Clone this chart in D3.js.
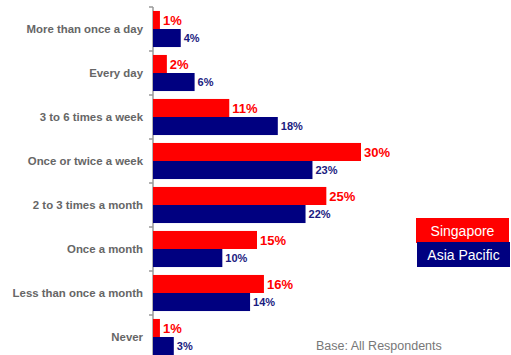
<!DOCTYPE html>
<html><head><meta charset="utf-8">
<script src="https://cdn.jsdelivr.net/npm/d3@7"></script>
<style>body{margin:0;background:#fff}svg{display:block}</style>
</head><body>
<script>
const categories = ["More than once a day","Every day","3 to 6 times a week","Once or twice a week","2 to 3 times a month","Once a month","Less than once a month","Never"];
const series = ["Singapore","Asia Pacific"];
const singapore = [1,2,11,30,25,15,16,1];
const asiaPacific = [4,6,18,23,22,10,14,3];
const colors = ["#FF0000","#000080"];
const values = [singapore, asiaPacific];

const W=511,H=355;
const svg=d3.select("body").append("svg").attr("width",W).attr("height",H);
const font="Liberation Sans, Arial, sans-serif";

const x=d3.scaleLinear().domain([0,30]).range([153,361]);
const y0=d3.scaleBand().domain(categories).range([7,359]).paddingInner(0.18).paddingOuter(0.09);
const y1=d3.scaleBand().domain(series).range([0,y0.bandwidth()]);
const step=y0.step();

// axis line and ticks
svg.append("line").attr("x1",153).attr("x2",153).attr("y1",7).attr("y2",H).attr("stroke","#999").attr("stroke-width",1.5);
categories.forEach((c,i)=>{
  const ty=7+i*step;
  svg.append("line").attr("x1",149).attr("x2",153).attr("y1",ty).attr("y2",ty).attr("stroke","#999").attr("stroke-width",1.5);
});

// category labels
svg.append("g").selectAll("text").data(categories).join("text")
  .attr("x",143).attr("y",d=>y0(d)+y0.bandwidth()/2).attr("dy","0.35em")
  .attr("text-anchor","end").attr("font-family",font).attr("font-weight","bold")
  .attr("font-size",11.4).attr("fill","#666").text(d=>d);

series.forEach((s,si)=>{
  const g=svg.append("g");
  g.selectAll("rect").data(categories).join("rect")
    .attr("x",x(0)).attr("y",(d)=>y0(d)+y1(s))
    .attr("width",(d,i)=>x(values[si][i])-x(0)).attr("height",y1.bandwidth())
    .attr("fill",colors[si]);
  g.selectAll("text").data(categories).join("text")
    .attr("x",(d,i)=>x(values[si][i])+3)
    .attr("y",d=>y0(d)+y1(s)+y1.bandwidth()/2).attr("dy","0.36em")
    .attr("font-family",font).attr("font-weight","bold")
    .attr("font-size",si===0?13:11).attr("fill",si===0?"#FF0000":"#1a1a80")
    .text((d,i)=>values[si][i]+"%");
});

// legend
const legend=[{x:416,y:218},{x:417,y:242}];
series.forEach((s,i)=>{
  svg.append("rect").attr("x",legend[i].x).attr("y",legend[i].y).attr("width",93).attr("height",25).attr("fill",colors[i]);
  svg.append("text").attr("x",legend[i].x+46.5).attr("y",legend[i].y+12.5).attr("dy","0.36em")
    .attr("text-anchor","middle").attr("font-family",font).attr("font-size",14).attr("fill","#fff").text(s);
});

svg.append("text").attr("x",316).attr("y",350).attr("font-family",font).attr("font-size",12.5).attr("fill","#777").text("Base: All Respondents");
</script>
</body></html>
